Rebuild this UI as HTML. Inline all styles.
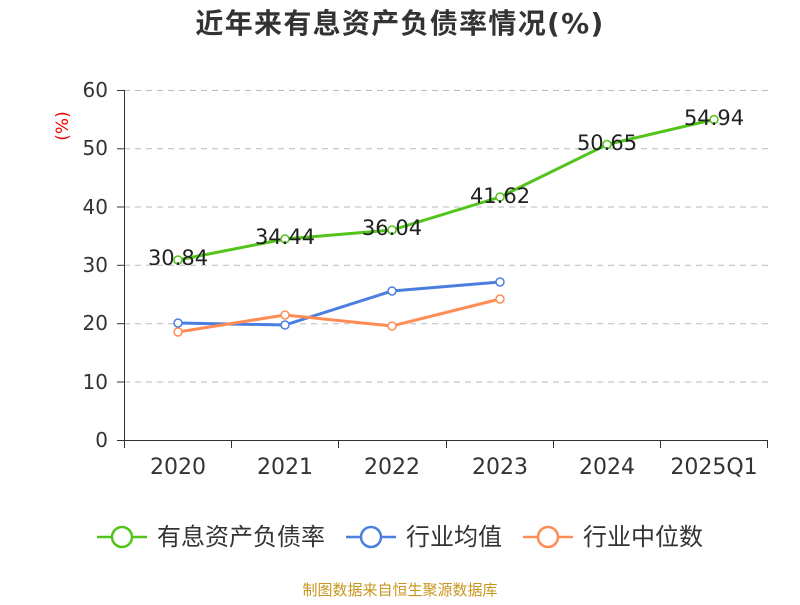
<!DOCTYPE html>
<html><head><meta charset="utf-8"><style>body{margin:0;background:#fff}</style></head><body>
<svg width="800" height="600" xmlns="http://www.w3.org/2000/svg" font-family="DejaVu Sans, Noto Sans CJK SC, sans-serif">
<rect width="800" height="600" fill="#fff"/>
<text x="400" y="33" text-anchor="middle" font-size="28" font-weight="bold" fill="#333" letter-spacing="1.3">近年来有息资产负债率情况(%)</text>
<text x="68" y="126" transform="rotate(-90 68 126)" text-anchor="middle" font-size="17" fill="#e00">(%)</text>
<g stroke="#bbb" stroke-dasharray="6,5" stroke-width="1">
<line x1="124" y1="90.5" x2="768" y2="90.5"/><line x1="124" y1="148.8" x2="768" y2="148.8"/><line x1="124" y1="207" x2="768" y2="207"/><line x1="124" y1="265.3" x2="768" y2="265.3"/><line x1="124" y1="323.7" x2="768" y2="323.7"/><line x1="124" y1="382" x2="768" y2="382"/>
</g>
<g stroke="#333" stroke-width="1">
<line x1="124.5" y1="90" x2="124.5" y2="440"/>
<line x1="124" y1="440.5" x2="768" y2="440.5"/>
<line x1="117" y1="90.5" x2="124" y2="90.5"/><line x1="117" y1="148.8" x2="124" y2="148.8"/><line x1="117" y1="207" x2="124" y2="207"/><line x1="117" y1="265.3" x2="124" y2="265.3"/><line x1="117" y1="323.7" x2="124" y2="323.7"/><line x1="117" y1="382" x2="124" y2="382"/><line x1="117" y1="440.5" x2="124" y2="440.5"/>
<line x1="124.5" y1="440" x2="124.5" y2="448"/><line x1="231.5" y1="440" x2="231.5" y2="448"/><line x1="338.5" y1="440" x2="338.5" y2="448"/><line x1="446.5" y1="440" x2="446.5" y2="448"/><line x1="553.5" y1="440" x2="553.5" y2="448"/><line x1="660.5" y1="440" x2="660.5" y2="448"/><line x1="767.5" y1="440" x2="767.5" y2="448"/>
</g>
<g font-size="20" fill="#333" text-anchor="end">
<text x="108" y="97">60</text><text x="108" y="155">50</text><text x="108" y="214">40</text><text x="108" y="272">30</text><text x="108" y="330">20</text><text x="108" y="389">10</text><text x="108" y="447">0</text>
</g>
<g font-size="22" fill="#333" text-anchor="middle">
<text x="178" y="474">2020</text><text x="285" y="474">2021</text><text x="392" y="474">2022</text><text x="500" y="474">2023</text><text x="607" y="474">2024</text><text x="714" y="474">2025Q1</text>
</g>
<polyline fill="none" stroke="#52c41a" stroke-width="3" points="178,260 285,239 392,230 500,197 607,144.5 714,119.5"/>
<polyline fill="none" stroke="#4a7fe0" stroke-width="3" points="178,323 285,325 392,291 500,282"/>
<polyline fill="none" stroke="#ff8c55" stroke-width="3" points="178,332 285,315 392,326 500,299"/>
<g fill="#fff" stroke-width="1.5">
<g stroke="#52c41a"><circle cx="178" cy="260" r="4"/><circle cx="285" cy="239" r="4"/><circle cx="392" cy="230" r="4"/><circle cx="500" cy="197" r="4"/><circle cx="607" cy="144.5" r="4"/><circle cx="714" cy="119.5" r="4"/></g>
<g stroke="#4a7fe0"><circle cx="178" cy="323" r="4"/><circle cx="285" cy="325" r="4"/><circle cx="392" cy="291" r="4"/><circle cx="500" cy="282" r="4"/></g>
<g stroke="#ff8c55"><circle cx="178" cy="332" r="4"/><circle cx="285" cy="315" r="4"/><circle cx="392" cy="326" r="4"/><circle cx="500" cy="299" r="4"/></g>
</g>
<g font-size="21" fill="#222" text-anchor="middle">
<text x="178" y="265">30.84</text><text x="285" y="244">34.44</text><text x="392" y="235">36.04</text><text x="500" y="203">41.62</text><text x="607" y="150">50.65</text><text x="714" y="125">54.94</text>
</g>
<g stroke-width="2.5" fill="#fff">
<line x1="97" y1="537" x2="147" y2="537" stroke="#52c41a"/><circle cx="122" cy="537" r="10" stroke="#52c41a"/>
<line x1="346" y1="537" x2="396" y2="537" stroke="#4a7fe0"/><circle cx="371" cy="537" r="10" stroke="#4a7fe0"/>
<line x1="523" y1="537" x2="573" y2="537" stroke="#ff8c55"/><circle cx="548" cy="537" r="10" stroke="#ff8c55"/>
</g>
<g font-size="24" fill="#333">
<text x="157" y="545">有息资产负债率</text><text x="406" y="545">行业均值</text><text x="583" y="545">行业中位数</text>
</g>
<text x="400" y="595" text-anchor="middle" font-size="15" fill="#c8961e">制图数据来自恒生聚源数据库</text>
</svg>
</body></html>
